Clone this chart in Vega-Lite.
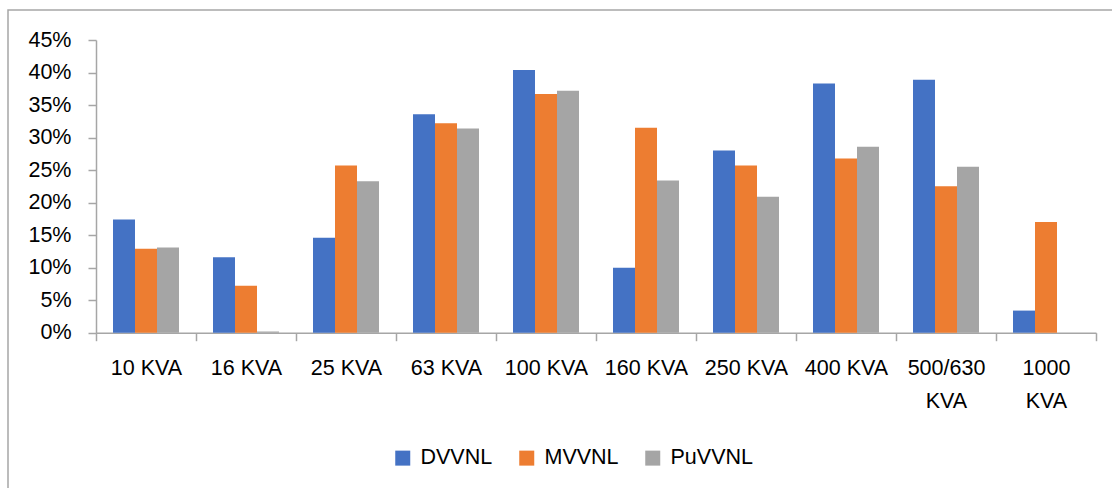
{
  "$schema": "https://vega.github.io/schema/vega-lite/v6.json",
  "autosize": {"type": "none"},
  "padding": {"left": 8, "top": 10, "right": 0, "bottom": 0},
  "width": 1110,
  "height": 480,
  "background": "white",
  "data": {
    "values": [
      {"size": "10 KVA", "discom": "DVVNL", "share": 0.174},
      {"size": "10 KVA", "discom": "MVVNL", "share": 0.129},
      {"size": "10 KVA", "discom": "PuVVNL", "share": 0.131},
      {"size": "16 KVA", "discom": "DVVNL", "share": 0.116},
      {"size": "16 KVA", "discom": "MVVNL", "share": 0.072},
      {"size": "16 KVA", "discom": "PuVVNL", "share": 0.002},
      {"size": "25 KVA", "discom": "DVVNL", "share": 0.146},
      {"size": "25 KVA", "discom": "MVVNL", "share": 0.257},
      {"size": "25 KVA", "discom": "PuVVNL", "share": 0.233},
      {"size": "63 KVA", "discom": "DVVNL", "share": 0.336},
      {"size": "63 KVA", "discom": "MVVNL", "share": 0.322},
      {"size": "63 KVA", "discom": "PuVVNL", "share": 0.314},
      {"size": "100 KVA", "discom": "DVVNL", "share": 0.404},
      {"size": "100 KVA", "discom": "MVVNL", "share": 0.367},
      {"size": "100 KVA", "discom": "PuVVNL", "share": 0.372},
      {"size": "160 KVA", "discom": "DVVNL", "share": 0.100},
      {"size": "160 KVA", "discom": "MVVNL", "share": 0.315},
      {"size": "160 KVA", "discom": "PuVVNL", "share": 0.234},
      {"size": "250 KVA", "discom": "DVVNL", "share": 0.280},
      {"size": "250 KVA", "discom": "MVVNL", "share": 0.257},
      {"size": "250 KVA", "discom": "PuVVNL", "share": 0.209},
      {"size": "400 KVA", "discom": "DVVNL", "share": 0.383},
      {"size": "400 KVA", "discom": "MVVNL", "share": 0.268},
      {"size": "400 KVA", "discom": "PuVVNL", "share": 0.286},
      {"size": "500/630 KVA", "discom": "DVVNL", "share": 0.389},
      {"size": "500/630 KVA", "discom": "MVVNL", "share": 0.225},
      {"size": "500/630 KVA", "discom": "PuVVNL", "share": 0.255},
      {"size": "1000 KVA", "discom": "DVVNL", "share": 0.034},
      {"size": "1000 KVA", "discom": "MVVNL", "share": 0.170}
    ]
  },
  "mark": {"type": "bar"},
  "encoding": {
    "x": {
      "field": "size",
      "type": "nominal",
      "sort": null,
      "title": null,
      "scale": {"range": [88, 1088], "paddingInner": 0, "paddingOuter": 0},
      "axis": {
        "offset": -157.3,
        "tickBand": "extent",
        "tickSize": 8,
        "labelPadding": 17,
        "labelAngle": 0,
        "labelLineHeight": 33,
        "labelExpr": "datum.label == '500/630 KVA' || datum.label == '1000 KVA' ? split(datum.label, ' ') : datum.label"
      }
    },
    "xOffset": {
      "field": "discom",
      "type": "nominal",
      "sort": ["DVVNL", "MVVNL", "PuVVNL"],
      "scale": {"paddingInner": 0, "paddingOuter": 0.773}
    },
    "y": {
      "field": "share",
      "type": "quantitative",
      "title": null,
      "scale": {"domain": [0, 0.45], "range": [322.7, 30], "nice": false},
      "axis": {
        "offset": -88,
        "values": [0, 0.05, 0.1, 0.15, 0.2, 0.25, 0.3, 0.35, 0.4, 0.45],
        "format": ".0%",
        "tickSize": 8,
        "labelPadding": 17,
        "grid": false
      }
    },
    "color": {
      "field": "discom",
      "type": "nominal",
      "title": null,
      "scale": {
        "domain": ["DVVNL", "MVVNL", "PuVVNL"],
        "range": ["#4472c4", "#ed7d31", "#a5a5a5"]
      },
      "legend": {
        "orient": "none",
        "direction": "horizontal",
        "legendX": 384,
        "legendY": 437,
        "symbolType": "square",
        "symbolSize": 225,
        "symbolStrokeWidth": 0,
        "labelOffset": 7,
        "columnPadding": 23,
        "padding": 0
      }
    }
  },
  "config": {
    "view": {"stroke": "#a6a6a6", "strokeWidth": 1.5},
    "font": "Liberation Sans",
    "axis": {
      "domainColor": "#a6a6a6",
      "tickColor": "#a6a6a6",
      "domainWidth": 1.5,
      "tickWidth": 1.5,
      "labelFont": "Liberation Sans",
      "labelFontSize": 21.5,
      "labelColor": "#000000"
    },
    "legend": {
      "labelFont": "Liberation Sans",
      "labelFontSize": 21.5,
      "labelColor": "#000000"
    }
  }
}
